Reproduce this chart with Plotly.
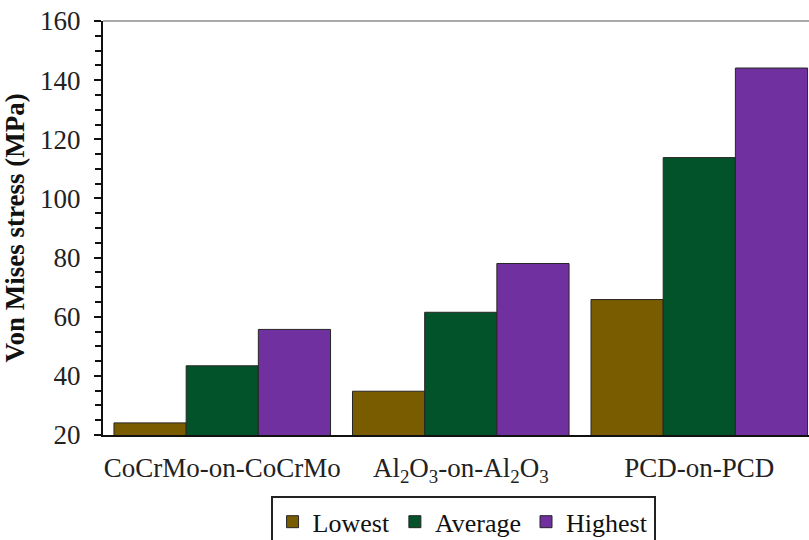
import plotly.graph_objects as go

# Contact pairs (x categories)
categories = ["CoCrMo-on-CoCrMo",
              "Al<sub>2</sub>O<sub>3</sub>-on-Al<sub>2</sub>O<sub>3</sub>",
              "PCD-on-PCD"]

# Von Mises stress (MPa) per pair
lowest = [24.1, 34.8, 65.8]
average = [43.4, 61.5, 113.8]
highest = [55.7, 78.0, 144.1]

series = [
    ("Lowest", lowest, "#7a5c00"),
    ("Average", average, "#02532a"),
    ("Highest", highest, "#7030a0"),
]

fig = go.Figure()
for name, vals, color in series:
    fig.add_trace(go.Bar(
        x=categories, y=vals, name=name,
        marker=dict(color=color, line=dict(color="#262626", width=1)),
    ))

serif = "'Liberation Serif', 'Times New Roman', serif"

fig.update_layout(
    width=809, height=540,
    margin=dict(l=103, r=0, t=21, b=105, autoexpand=False),
    paper_bgcolor="white", plot_bgcolor="white",
    barmode="group", bargap=0.092, bargroupgap=0,
    font=dict(family=serif, color="#222222", size=25),
    showlegend=True,
    legend=dict(
        orientation="h", x=0.51, xanchor="center", y=-0.148, yanchor="top",
        bordercolor="#222222", borderwidth=2,
        font=dict(family=serif, size=26, color="#111111"),
        itemwidth=30, traceorder="normal",
    ),
    xaxis=dict(
        range=[-0.5, 2.46],
        showline=True, linecolor="#111111", linewidth=2,
        ticks="", ticklabelstandoff=8,
        tickfont=dict(family=serif, size=27, color="#222222"),
        showgrid=False, zeroline=False,
    ),
    yaxis=dict(
        range=[20, 160], dtick=20, tick0=0,
        showline=True, linecolor="#111111", linewidth=2,
        ticks="outside", ticklen=7, tickwidth=2, tickcolor="#111111",
        minor=dict(dtick=5, ticks="outside", ticklen=6, tickwidth=2,
                   tickcolor="#111111", showgrid=False),
        ticklabelstandoff=8,
        tickfont=dict(family=serif, size=27, color="#222222"),
        showgrid=False, zeroline=False,
        title=dict(text="<b>Von Mises stress (MPa)</b>",
                   font=dict(family=serif, size=27, color="#111111"),
                   standoff=8),
    ),
    shapes=[dict(type="line", xref="paper", yref="paper",
                 x0=0, x1=1, y0=1, y1=1,
                 line=dict(color="#8c8c8c", width=1.5))],
)

fig.write_html("out.html")
